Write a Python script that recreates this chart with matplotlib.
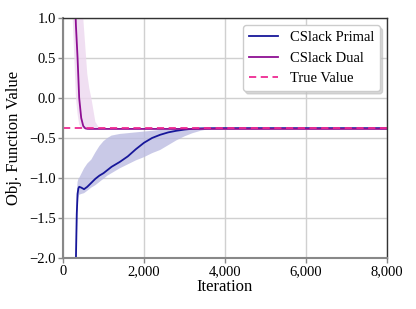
import matplotlib
matplotlib.use("Agg")
import matplotlib.pyplot as plt
from matplotlib.ticker import FuncFormatter

# datos (iteracion, valor)
iter_primal = [0, 300, 320, 340, 360, 380, 400, 450, 520, 600, 700, 800, 900, 1000, 1100, 1200,
               1400, 1600, 1800, 2000, 2200, 2400, 2600, 2800, 3000, 3200, 3400, 3600, 4000, 5000, 6000, 7000, 8000]
primal = [-5.0, -4.0, -2.0, -1.45, -1.2, -1.13, -1.11, -1.12, -1.14, -1.11, -1.06, -1.01, -0.97, -0.94, -0.90, -0.86,
          -0.8, -0.73, -0.64, -0.56, -0.50, -0.46, -0.43, -0.41, -0.395, -0.385, -0.38, -0.378, -0.377, -0.377, -0.377, -0.377, -0.377]
primal_lo = [-5.5, -4.5, -2.3, -1.8, -1.4, -1.25, -1.21, -1.2, -1.19, -1.16, -1.12, -1.09, -1.05, -1.01, -0.97, -0.94,
             -0.88, -0.83, -0.78, -0.74, -0.69, -0.65, -0.59, -0.53, -0.48, -0.44, -0.41, -0.39, -0.38, -0.378, -0.378, -0.378, -0.378]
primal_hi = [-4.5, -3.5, -1.7, -1.2, -1.05, -1.01, -1.0, -0.95, -0.88, -0.82, -0.77, -0.68, -0.6, -0.54, -0.5, -0.47,
             -0.45, -0.44, -0.43, -0.42, -0.41, -0.40, -0.395, -0.39, -0.385, -0.38, -0.377, -0.376, -0.376, -0.376, -0.376, -0.376, -0.376]

iter_dual = [0, 200, 240, 280, 320, 360, 400, 450, 500, 550, 600, 650, 700, 800, 900, 1000, 2000, 4000, 6000, 8000]
dual = [6.0, 3.0, 2.0, 1.5, 0.9, 0.5, 0.0, -0.25, -0.35, -0.38, -0.386, -0.387, -0.387, -0.387, -0.387, -0.387, -0.387, -0.387, -0.387, -0.387]
dual_lo = [5.0, 1.8, 1.0, 0.5, 0.0, -0.2, -0.33, -0.38, -0.387, -0.388, -0.388, -0.388, -0.388, -0.388, -0.388, -0.388, -0.388, -0.388, -0.388, -0.388]
dual_hi = [7.0, 4.0, 3.0, 2.5, 2.0, 1.6, 1.3, 1.15, 1.0, 0.65, 0.3, 0.12, 0.0, -0.3, -0.38, -0.386, -0.386, -0.386, -0.386, -0.386]

true_value = -0.375

plt.rcParams['font.family'] = ['Liberation Serif', 'DejaVu Serif']

fig = plt.figure(figsize=(4.16, 3.09), dpi=100)
ax = fig.add_axes([0.1514, 0.165, 0.779, 0.777])

ax.fill_between(iter_primal, primal_lo, primal_hi, color='#b8b8e0', alpha=0.75, lw=0)
ax.fill_between(iter_dual, dual_lo, dual_hi, color='#edd8ef', alpha=0.8, lw=0)
ax.plot(iter_primal, primal, color='#17179a', lw=1.3, label='CSlack Primal')
ax.plot(iter_dual, dual, color='#8e0f93', lw=1.3, label='CSlack Dual')
ax.axhline(true_value, color='#ee2a92', lw=1.3, ls=(0, (4, 2.5)), label='True Value')

ax.set_xlim(0, 8000)
ax.set_ylim(-2.0, 1.0)
ax.set_xticks([0, 2000, 4000, 6000, 8000])
ax.set_yticks([-2.0, -1.5, -1.0, -0.5, 0.0, 0.5, 1.0])
ax.xaxis.set_major_formatter(FuncFormatter(lambda v, p: f"{int(v):,}"))
ax.yaxis.set_major_formatter(FuncFormatter(lambda v, p: f"{v:.1f}".replace('-', '\u2212')))
ax.tick_params(labelsize=10.5, color='#888888', length=3.5, width=1, pad=1.5)
ax.grid(True, color='#d0d0d0', lw=1)
ax.set_axisbelow(True)

for s in ['left', 'bottom']:
    ax.spines[s].set_color('#888888')
    ax.spines[s].set_linewidth(1.5)
for s in ['top', 'right']:
    ax.spines[s].set_color('#333333')
    ax.spines[s].set_linewidth(1.0)

ax.set_xlabel('Iteration', fontsize=12, labelpad=1)
ax.set_ylabel('Obj. Function Value', fontsize=12, labelpad=5)

leg = ax.legend(loc='upper right', fontsize=10.5, fancybox=True, shadow={'color': '0.75', 'alpha': 0.6},
                framealpha=1, edgecolor='#cccccc')

fig.savefig('out.png', dpi=100)
